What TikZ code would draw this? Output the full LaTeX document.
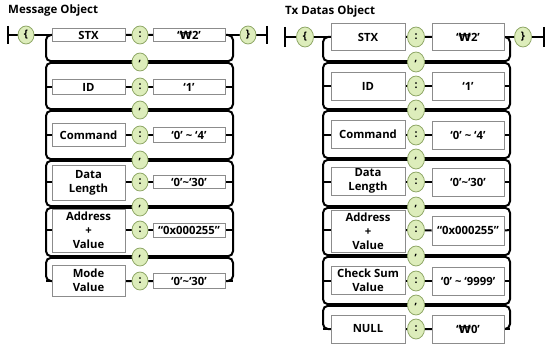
\documentclass[tikz,border=0pt]{standalone}
\usepackage{fontspec}
\setmainfont{Open Sans}
\newfontfamily\wonfont{DejaVu Sans}
\newcommand{\won}{{\wonfont\bfseries ₩}}
\usetikzlibrary{shapes.geometric,backgrounds}
\definecolor{ovalfill}{HTML}{DDEDBB}
\definecolor{ovaldraw}{HTML}{90A868}
\definecolor{boxdraw}{HTML}{8C8C8C}
\tikzset{
  keybox/.style={draw=boxdraw, fill=white, line width=0.8pt, align=center,
    font=\fontsize{11.3}{14}\selectfont\bfseries, inner sep=0pt},
  oval/.style={ellipse, draw=ovaldraw, fill=ovalfill, line width=0.8pt,
    minimum width=16pt, minimum height=18pt, inner sep=0pt,
    font=\fontsize{10.5}{10.5}\selectfont\bfseries},
  bigoval/.style={oval, minimum width=17pt, minimum height=20pt},
  rail/.style={line width=2pt, rounded corners=5pt},
  railline/.style={line width=2pt},
  title/.style={font=\fontsize{11.5}{13}\selectfont\bfseries, anchor=west, inner sep=0pt}
}
\begin{document}
\begin{tikzpicture}[x=1pt,y=-1pt]
\useasboundingbox (0,0) rectangle (548,345);

% ---------------- Left: Message Object ----------------
\node[title] (ltitle) at (8,11) {Message Object};
\coordinate (lbarT) at (8,26);
\coordinate (lbarB) at (8,44);
\coordinate (lbarM) at (8,35);
\coordinate (rbarT) at (267,26);
\coordinate (rbarB) at (267,44);
\coordinate (rbarM) at (267,35);
\node[oval] (lopen) at (26,35) {\{};
\node[oval] (lclose) at (248,35) {\}};

\node[keybox, minimum width=73pt, minimum height=13pt] (lk0) at (88.5,35) {STX};
\node[oval] (lc0) at (140,35) {:};
\node[keybox, minimum width=72pt, minimum height=13pt] (lv0) at (189,35) {‘\won2’};

\node[oval] (lm0) at (140,62) {,};

\node[keybox, minimum width=73pt, minimum height=15pt] (lk1) at (88.5,87) {ID};
\node[oval] (lc1) at (140,87) {:};
\node[keybox, minimum width=72pt, minimum height=15pt] (lv1) at (189,87) {‘1’};

\node[oval] (lm1) at (140,110) {,};

\node[keybox, minimum width=73pt, minimum height=23pt] (lk2) at (88.5,135) {Command};
\node[oval] (lc2) at (140,135) {:};
\node[keybox, minimum width=72pt, minimum height=15pt] (lv2) at (189,135) {‘0’ \textasciitilde{} ‘4’};

\node[oval] (lm2) at (140,160) {,};

\node[keybox, minimum width=73pt, minimum height=35pt] (lk3) at (88.5,182.5) {Data\\Length};
\node[oval] (lc3) at (140,182) {:};
\node[keybox, minimum width=72pt, minimum height=13pt] (lv3) at (189,182) {‘0’\textasciitilde‘30’};

\node[oval] (lm3) at (140,207) {,};

\node[keybox, minimum width=73pt, minimum height=43pt] (lk4) at (88.5,230.5) {Address\\+\\Value};
\node[oval] (lc4) at (140,230) {:};
\node[keybox, minimum width=72pt, minimum height=14pt] (lv4) at (189,230) {“0x000255”};

\node[oval] (lm4) at (140,257) {,};

\node[keybox, minimum width=73pt, minimum height=31pt] (lk5) at (88.5,280.5) {Mode\\Value};
\node[oval] (lc5) at (140,281) {:};
\node[keybox, minimum width=72pt, minimum height=15pt] (lv5) at (189,281) {‘0’\textasciitilde‘30’};

% ---------------- Right: Tx Datas Object ----------------
\node[title] (rtitle) at (285,12) {Tx Datas Object};
\coordinate (Rl-barT) at (285,27);
\coordinate (Rl-barB) at (285,47);
\coordinate (Rl-barM) at (285,37);
\coordinate (Rr-barT) at (544,27);
\coordinate (Rr-barB) at (544,47);
\coordinate (Rr-barM) at (544,37);
\node[bigoval] (ropen) at (305,37) {\{};
\node[bigoval] (rclose) at (523,37) {\}};

\node[keybox, minimum width=74pt, minimum height=27pt] (rk0) at (368,37) {STX};
\node[bigoval] (rc0) at (416,37) {:};
\node[keybox, minimum width=72pt, minimum height=27pt] (rv0) at (468,37) {‘\won2’};

\node[bigoval] (rm0) at (416,62) {,};

\node[keybox, minimum width=74pt, minimum height=28pt] (rk1) at (368,86) {ID};
\node[bigoval] (rc1) at (416,86) {:};
\node[keybox, minimum width=72pt, minimum height=28pt] (rv1) at (468,86) {‘1’};

\node[bigoval] (rm1) at (416,110) {,};

\node[keybox, minimum width=74pt, minimum height=28pt] (rk2) at (368,134) {Command};
\node[bigoval] (rc2) at (416,135) {:};
\node[keybox, minimum width=72pt, minimum height=28pt] (rv2) at (468,135) {‘0’ \textasciitilde{} ‘4’};

\node[bigoval] (rm2) at (416,159) {,};

\node[keybox, minimum width=74pt, minimum height=28pt] (rk3) at (368,181) {Data\\Length};
\node[bigoval] (rc3) at (416,182) {:};
\node[keybox, minimum width=72pt, minimum height=28pt] (rv3) at (468,182) {‘0’\textasciitilde‘30’};

\node[bigoval] (rm3) at (416,207) {,};

\node[keybox, minimum width=74pt, minimum height=42pt] (rk4) at (368,231) {Address\\+\\Value};
\node[bigoval] (rc4) at (416,230) {:};
\node[keybox, minimum width=72pt, minimum height=29pt] (rv4) at (468,230.5) {“0x000255”};

\node[bigoval] (rm4) at (416,256) {,};

\node[keybox, minimum width=74pt, minimum height=28pt] (rk5) at (368,280) {Check Sum\\Value};
\node[bigoval] (rc5) at (416,281) {:};
\node[keybox, minimum width=72pt, minimum height=28pt] (rv5) at (468,281) {‘0’ \textasciitilde{} ‘9999’};

\node[bigoval] (rm5) at (416,305) {,};

\node[keybox, minimum width=74pt, minimum height=28pt] (rk6) at (368,329) {NULL};
\node[bigoval] (rc6) at (416,329) {:};
\node[keybox, minimum width=72pt, minimum height=28pt] (rv6) at (468,329) {‘\won0’};

% ---------------- lines behind ----------------
\begin{pgfonlayer}{background}
  % left diagram
  \draw[railline] (lbarT) -- (lbarB);
  \draw[railline] (rbarT) -- (rbarB);
  \draw[railline] (lbarM) -- (lopen) -- (lk0) -- (lc0) -- (lv0) -- (lclose) -- (rbarM);
  \foreach \i in {1,...,5}{
    \draw[railline] (46,0 |- lc\i) -- (lk\i.west |- lc\i);
    \draw[railline] (lk\i.east |- lc\i) -- (lc\i) -- (lv\i.west);
    \draw[railline] (lv\i.east) -- (233,0 |- lc\i);
  }
  \draw[rail] (46,35) rectangle (233,61.2);
  \draw[rail] (46,62.8) rectangle (233,109.2);
  \draw[rail] (46,110.8) rectangle (233,159.2);
  \draw[rail] (46,160.8) rectangle (233,206.2);
  \draw[rail] (46,207.8) rectangle (233,256.2);
  \draw[rail] (46,257.8) rectangle (233,281);
  % right diagram
  \draw[railline] (Rl-barT) -- (Rl-barB);
  \draw[railline] (Rr-barT) -- (Rr-barB);
  \draw[railline] (Rl-barM) -- (ropen) -- (rk0) -- (rc0) -- (rv0) -- (rclose) -- (Rr-barM);
  \foreach \i in {1,...,6}{
    \draw[railline] (323,0 |- rc\i) -- (rk\i.west |- rc\i);
    \draw[railline] (rk\i.east |- rc\i) -- (rc\i) -- (rv\i.west);
    \draw[railline] (rv\i.east) -- (510,0 |- rc\i);
  }
  \draw[rail] (323,37) rectangle (510,61.2);
  \draw[rail] (323,62.8) rectangle (510,109.2);
  \draw[rail] (323,110.8) rectangle (510,158.2);
  \draw[rail] (323,159.8) rectangle (510,206.2);
  \draw[rail] (323,207.8) rectangle (510,255.2);
  \draw[rail] (323,256.8) rectangle (510,304.2);
  \draw[rail] (323,305.8) rectangle (510,329);
\end{pgfonlayer}
\end{tikzpicture}
\end{document}
